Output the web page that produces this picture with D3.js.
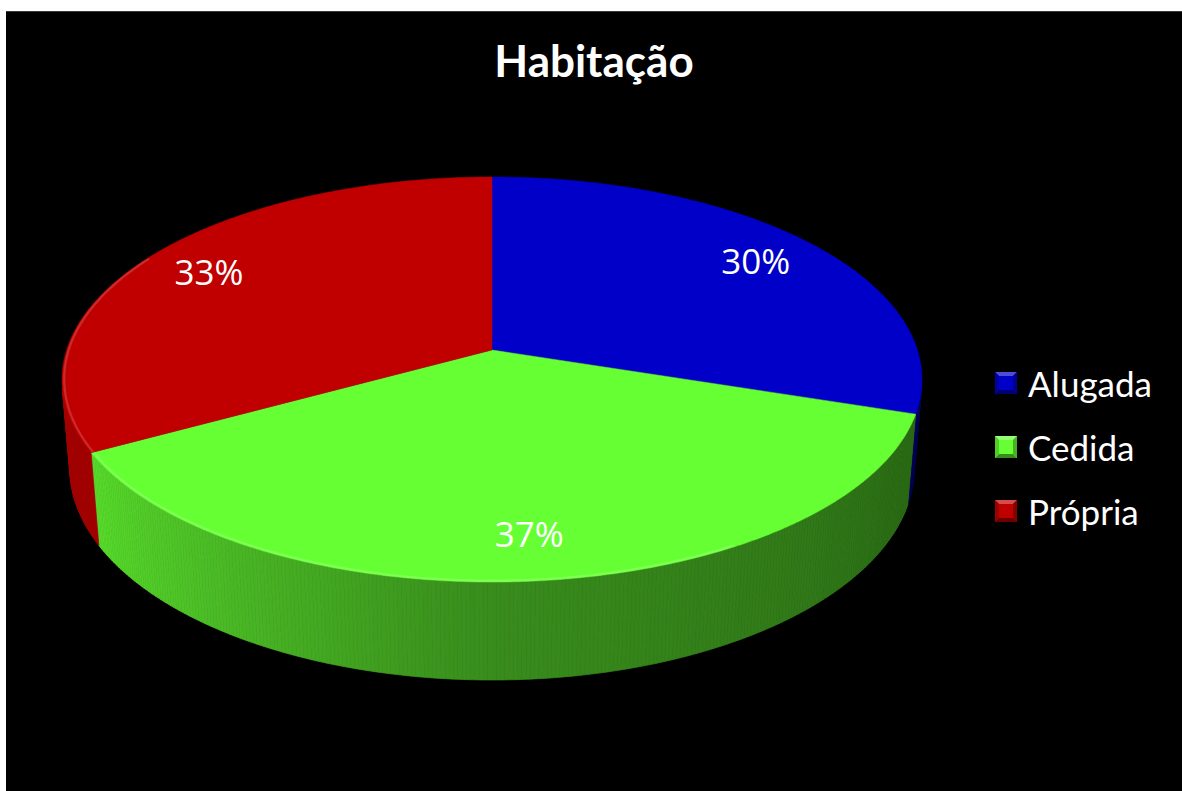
<!DOCTYPE html>
<html>
<head>
<meta charset="utf-8">
<script src="https://cdn.jsdelivr.net/npm/d3@7"></script>
<style>
  html, body { margin: 0; padding: 0; background: #ffffff; }
  svg { display: block; }
</style>
</head>
<body>
<svg id="chart" width="1182" height="791"></svg>
<script>
// ---- data ----
const title = "Habitação";
const categories = ["Alugada", "Cedida", "Própria"];
const values = [30, 37, 33];
const labels = ["30%", "37%", "33%"];
const colors = ["#0000C8", "#66FF33", "#C00000"];

// ---- geometry (3D perspective pie) ----
const W = 1182, H = 791;
const cx = 492, cy = 350;
const sinA = 0.466, cosA = Math.sqrt(1 - sinA * sinA);
const D = 6.072, F = 2583, thick = 0.2384;
const rad = Math.PI / 180;

function proj(thetaDeg, rho, z) {
  const t = thetaDeg * rad;
  const u = rho * Math.sin(t), v = rho * Math.cos(t);
  const up = v * sinA + z * cosA;
  const depth = D + v * cosA - z * sinA;
  return [cx + F * u / depth, cy - F * up / depth];
}

const svg = d3.select("#chart");
svg.append("rect").attr("x", 6).attr("y", 11).attr("width", W - 6).attr("height", H - 11)
  .attr("fill", "#000000");
svg.append("line").attr("x1", 6).attr("x2", W).attr("y1", 11.5).attr("y2", 11.5)
  .attr("stroke", "#3a3a3a").attr("stroke-width", 1);

const pie = d3.pie().sort(null).value(d => d)(values);
const slices = pie.map((p, i) => ({
  start: p.startAngle / rad, end: p.endAngle / rad, color: colors[i], label: labels[i], i
}));

const shade = d3.scaleLinear().domain([90, 180, 240, 275]).range([0.38, 0.55, 0.86, 0.84]).clamp(true);
function mult(c, f) { const r = d3.rgb(c); return d3.rgb(r.r * f, r.g * f, r.b * f).formatHex(); }

const gSide = svg.append("g");
const step = 0.5;
slices.forEach(s => {
  for (let a = s.start; a < s.end - 1e-9; a += step) {
    const b = Math.min(a + step, s.end);
    const p = [proj(a, 1, 0), proj(b, 1, 0), proj(b, 1, -thick), proj(a, 1, -thick)];
    let area = 0;
    for (let j = 0; j < 4; j++) {
      const q = p[j], r = p[(j + 1) % 4];
      area += q[0] * r[1] - r[0] * q[1];
    }
    if (area >= 0) continue;
    const mid = (a + b) / 2;
    const col = mult(s.color, shade(mid));
    gSide.append("path")
      .attr("d", "M" + p.map(q => q.join(",")).join("L") + "Z")
      .attr("fill", col).attr("stroke", col).attr("stroke-width", 0.7);
  }
});

// top faces
const gTop = svg.append("g");
slices.forEach(s => {
  const pts = [proj(0, 0, 0)];
  for (let a = s.start; a <= s.end + 1e-9; a += step) pts.push(proj(Math.min(a, s.end), 1, 0));
  pts.push(proj(s.end, 1, 0));
  gTop.append("path")
    .attr("d", d3.line()(pts) + "Z")
    .attr("fill", s.color).attr("stroke", s.color).attr("stroke-width", 0.5);
});

// rim highlight (bevel) on the front-left edge
slices.forEach(s => {
  const a0 = Math.max(s.start, 150), a1 = Math.min(s.end, 300);
  if (a1 <= a0) return;
  const pts = [];
  for (let a = a0; a <= a1 + 1e-9; a += step) {
    const p = proj(Math.min(a, a1), 0.995, 0);
    pts.push(p);
  }
  gTop.append("path")
    .attr("d", d3.line()(pts))
    .attr("fill", "none")
    .attr("stroke", d3.interpolateRgb(s.color, "#ffffff")(0.22))
    .attr("stroke-width", 2.2).attr("stroke-opacity", 0.75);
});

// data labels
const gLab = svg.append("g");
slices.forEach(s => {
  const mid = (s.start + s.end) / 2;
  const p = proj(mid, 0.82, 0);
  gLab.append("text")
    .attr("x", p[0]).attr("y", p[1])
    .attr("text-anchor", "middle").attr("dominant-baseline", "central")
    .attr("font-family", "'Open Sans', 'Noto Sans', sans-serif").attr("font-size", 35)
    .attr("fill", "#ffffff")
    .text(s.label);
});

// title
svg.append("text")
  .attr("x", 594).attr("y", 77)
  .attr("text-anchor", "middle")
  .attr("font-family", "Lato, 'Open Sans', sans-serif").attr("font-weight", "bold")
  .attr("font-size", 44).attr("fill", "#ffffff")
  .text(title);

// legend
const ly = d3.scalePoint().domain(categories).range([383, 511]);
const gLeg = svg.append("g");
categories.forEach((c, i) => {
  const y = ly(c), x0 = 995, sz = 22, bv = 4;
  const col = colors[i];
  const g = gLeg.append("g");
  const x1 = x0 + sz, y0 = y - sz / 2, y1 = y + sz / 2;
  g.append("rect").attr("x", x0).attr("y", y0).attr("width", sz).attr("height", sz)
    .attr("fill", col);
  const tri = (pts, fill) => g.append("path").attr("d", d3.line()(pts) + "Z").attr("fill", fill);
  tri([[x0, y0], [x1, y0], [x1 - bv, y0 + bv], [x0 + bv, y0 + bv]], d3.interpolateRgb(col, "#ffffff")(0.3));
  tri([[x0, y1], [x1, y1], [x1 - bv, y1 - bv], [x0 + bv, y1 - bv]], mult(col, 0.55));
  tri([[x0, y0], [x0 + bv, y0 + bv], [x0 + bv, y1 - bv], [x0, y1]], mult(col, 0.8));
  tri([[x1, y0], [x1 - bv, y0 + bv], [x1 - bv, y1 - bv], [x1, y1]], mult(col, 0.7));
  g.append("text")
    .attr("x", 1028).attr("y", y).attr("dominant-baseline", "central")
    .attr("font-family", "Lato, 'Open Sans', sans-serif").attr("font-size", 35)
    .attr("fill", "#ffffff")
    .text(c);
});
</script>
</body>
</html>
